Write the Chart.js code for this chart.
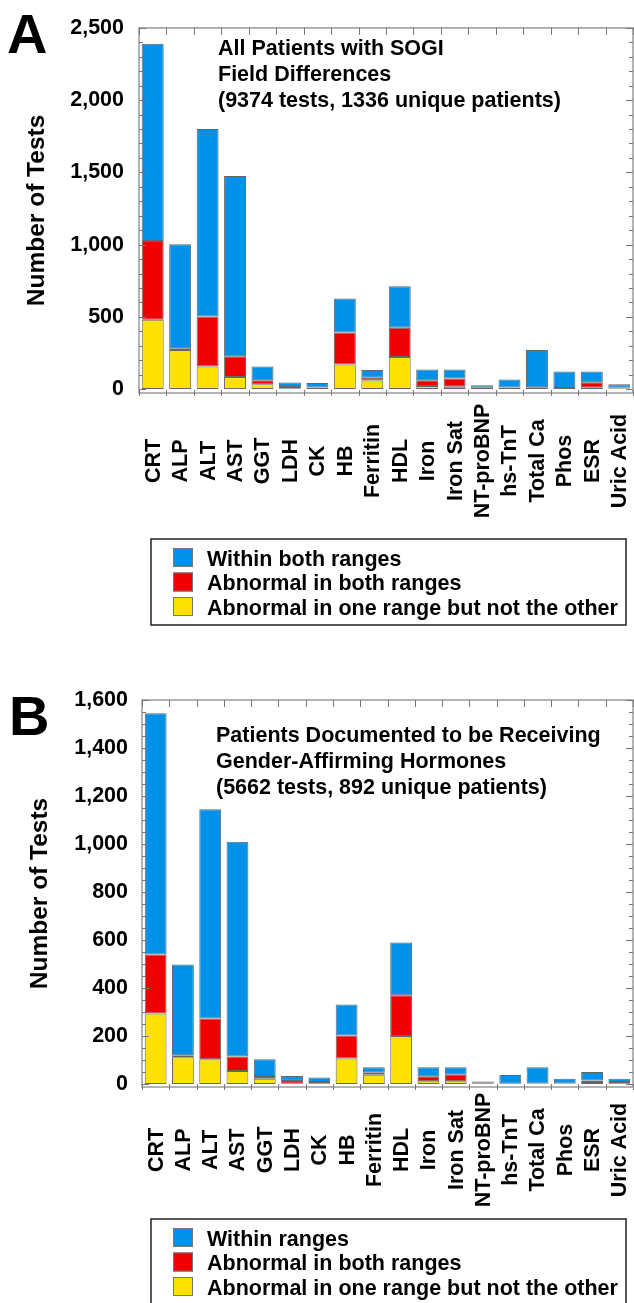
<!DOCTYPE html>
<html>
<head>
<meta charset="utf-8">
<script src="https://cdn.jsdelivr.net/npm/chart.js@4.4.1/dist/chart.umd.min.js"></script>
<style>
  body { margin: 0; background: #fff; }
  canvas { position: absolute; left: 0; }
</style>
</head>
<body>
<canvas id="chartA" width="634" height="650" style="top:0"></canvas>
<canvas id="chartB" width="634" height="653" style="top:650px"></canvas>
<script>
// test names along the x axis (same for both panels)
const categories = ['CRT', 'ALP', 'ALT', 'AST', 'GGT', 'LDH', 'CK', 'HB', 'Ferritin', 'HDL',
  'Iron', 'Iron Sat', 'NT-proBNP', 'hs-TnT', 'Total Ca', 'Phos', 'ESR', 'Uric Acid'];

// Panel A: all patients with SOGI field differences
const withinA = [1365, 720, 1297, 1248, 96, 31, 31, 236, 54, 287, 74, 61, 18, 56, 257, 114, 74, 25];
const bothA   = [545, 13, 346, 144, 27, 12, 10, 220, 20, 203, 39, 58, 8, 10, 12, 6, 38, 5];
const oneA    = [480, 270, 157, 83, 34, 2, 1, 171, 59, 222, 22, 16, 1, 1, 1, 1, 9, 4];
const yTicksA = [0, 500, 1000, 1500, 2000, 2500];

// Panel B: patients receiving gender-affirming hormones
const withinB = [1005, 378, 872, 894, 70, 20, 19, 129, 23, 220, 38, 31, 3, 37, 68, 20, 35, 14];
const bothB   = [246, 9, 170, 61, 11, 12, 7, 96, 8, 170, 21, 28, 6, 1, 2, 2, 7, 7];
const oneB    = [294, 111, 103, 54, 22, 1, 1, 106, 39, 200, 11, 11, 1, 0, 0, 0, 8, 1];
const yTicksB = [0, 200, 400, 600, 800, 1000, 1200, 1400, 1600];

const BLUE = '#0091EA';
const RED = '#F00000';
const YELLOW = '#FFE100';
const FONT = '"Liberation Sans", Arial, sans-serif';

Chart.defaults.font.family = FONT;

// frame, inward ticks, rotated labels, panel letter, note and boxed legend
const decor = {
  id: 'decor',
  afterDraw(chart, args, o) {
    const ctx = chart.ctx;
    const a = chart.chartArea;
    const xs = chart.scales.x;
    const ys = chart.scales.y;
    ctx.save();

    // frame
    ctx.strokeStyle = '#9a9a9a';
    ctx.lineWidth = 1.5;
    ctx.strokeRect(a.left, a.top, a.right - a.left, a.bottom - a.top);

    // y ticks, left and right, pointing in
    ctx.strokeStyle = '#777';
    ctx.lineWidth = 1;
    for (let v = 0; v <= ys.max; v += o.minorStep) {
      const py = Math.round(ys.getPixelForValue(v)) + 0.5;
      const len = v % o.majorStep === 0 ? 7 : 4;
      ctx.beginPath();
      ctx.moveTo(a.left, py); ctx.lineTo(a.left + len, py);
      ctx.moveTo(a.right, py); ctx.lineTo(a.right - len, py);
      ctx.stroke();
    }
    // x ticks at category boundaries
    for (let i = 0; i <= chart.data.labels.length; i++) {
      const px = Math.round(xs.getPixelForValue(i - 0.5)) + 0.5;
      ctx.beginPath();
      ctx.moveTo(px, a.top); ctx.lineTo(px, a.top + 7);
      ctx.moveTo(px, a.bottom - 3); ctx.lineTo(px, a.bottom + 3);
      ctx.stroke();
    }

    // rotated category labels, centred on a common line
    ctx.fillStyle = '#000';
    ctx.font = 'bold 21.5px ' + FONT;
    ctx.textAlign = 'center';
    ctx.textBaseline = 'middle';
    chart.data.labels.forEach((lab, i) => {
      ctx.save();
      ctx.translate(xs.getPixelForValue(i) + 1, a.bottom + o.labelOffset);
      ctx.rotate(-Math.PI / 2);
      ctx.fillText(lab, 0, 0);
      ctx.restore();
    });

    // panel letter
    ctx.textAlign = 'left';
    ctx.textBaseline = 'alphabetic';
    ctx.font = 'bold 56px ' + FONT;
    ctx.fillText(o.letter, o.letterX, o.letterY);

    // note inside the plot
    ctx.font = 'bold 21.5px ' + FONT;
    o.note.forEach((line, i) => ctx.fillText(line, o.noteX, o.noteY + i * 26));

    // legend box, top entry is the top of the stack
    const L = o.legend;
    ctx.strokeStyle = '#222';
    ctx.lineWidth = 1.5;
    ctx.strokeRect(L.x, L.y, L.w, L.h);
    const sets = chart.data.datasets.slice().reverse();
    sets.forEach((ds, i) => {
      const ry = L.y + 9 + i * 24.5;
      ctx.fillStyle = ds.backgroundColor;
      ctx.fillRect(L.x + 22, ry, 20, 19);
      ctx.strokeStyle = '#777';
      ctx.lineWidth = 1;
      ctx.strokeRect(L.x + 22.5, ry + 0.5, 19, 18);
      ctx.fillStyle = '#000';
      ctx.fillText(ds.label, L.x + 56, ry + 17.5);
    });
    ctx.restore();
  }
};

function makeChart(id, within, both, one, withinLabel, yTicks, cfg) {
  return new Chart(document.getElementById(id), {
    type: 'bar',
    data: {
      labels: categories,
      datasets: [
        { label: 'Abnormal in one range but not the other', data: one, backgroundColor: YELLOW },
        { label: 'Abnormal in both ranges', data: both, backgroundColor: RED },
        { label: withinLabel, data: within, backgroundColor: BLUE }
      ]
    },
    plugins: [decor],
    options: {
      responsive: false,
      animation: false,
      layout: { padding: { top: cfg.top, right: 1, left: 0, bottom: 0 } },
      datasets: {
        bar: {
          borderColor: '#666', borderWidth: 1, borderSkipped: false,
          barPercentage: 0.8, categoryPercentage: 1
        }
      },
      plugins: {
        legend: { display: false },
        tooltip: { enabled: false },
        decor: cfg.decor
      },
      scales: {
        x: {
          stacked: true,
          grid: { display: false },
          border: { display: false },
          ticks: { display: false },
          afterFit(s) { s.height = cfg.xHeight; }
        },
        y: {
          stacked: true,
          min: cfg.min,
          max: yTicks[yTicks.length - 1],
          afterBuildTicks(s) { s.ticks = yTicks.map(v => ({ value: v })); },
          grid: { display: false, drawTicks: false },
          border: { display: false },
          ticks: {
            padding: cfg.tickPad,
            color: '#000',
            font: { size: 21.5, weight: 'bold' },
            callback: v => v.toLocaleString('en-US')
          },
          title: {
            display: true,
            text: 'Number of Tests',
            color: '#000',
            font: { size: 24.5, weight: 'bold' },
            padding: { top: cfg.titlePad, bottom: 0 }
          },
          afterFit(s) { s.width = cfg.yWidth; }
        }
      }
    }
  });
}

makeChart('chartA', withinA, bothA, oneA, 'Within both ranges', yTicksA, {
  top: 18, min: -27, xHeight: 257, yWidth: 139, tickPad: 15, titlePad: 23,
  decor: {
    minorStep: 100, majorStep: 500, labelOffset: 68,
    letter: 'A', letterX: 7, letterY: 53,
    note: ['All Patients with SOGI', 'Field Differences', '(9374 tests, 1336 unique patients)'],
    noteX: 218, noteY: 55,
    legend: { x: 151, y: 539, w: 475, h: 86 }
  }
});

makeChart('chartB', withinB, bothB, oneB, 'Within ranges', yTicksB, {
  top: 50, min: -12.5, xHeight: 216, yWidth: 142, tickPad: 14, titlePad: 26,
  decor: {
    minorStep: 50, majorStep: 200, labelOffset: 63,
    letter: 'B', letterX: 9, letterY: 85,
    note: ['Patients Documented to be Receiving', 'Gender-Affirming Hormones', '(5662 tests, 892 unique patients)'],
    noteX: 216, noteY: 92,
    legend: { x: 151, y: 569, w: 475, h: 90 }
  }
});
</script>
</body>
</html>
